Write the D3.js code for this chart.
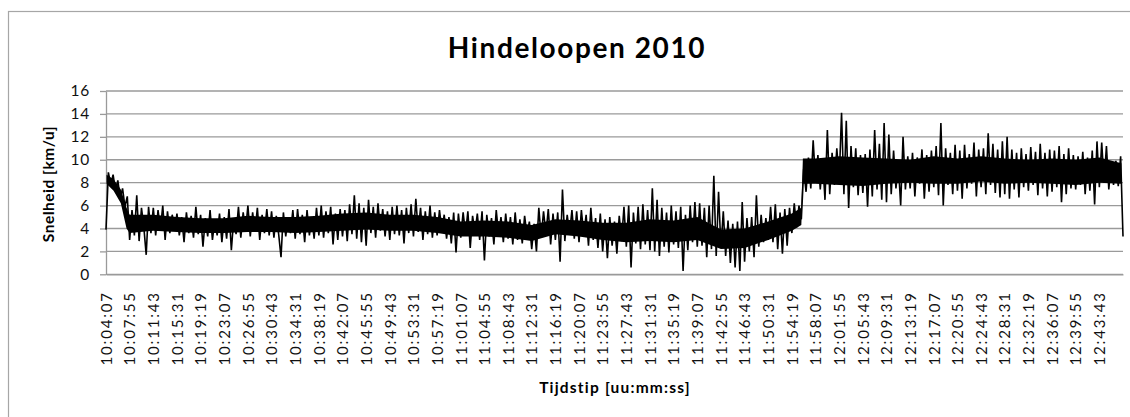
<!DOCTYPE html>
<html>
<head>
<meta charset="utf-8">
<script src="https://cdn.jsdelivr.net/npm/d3@7"></script>
<style>
body { margin: 0; background: #fff; }
svg { display: block; font-family: Lato, "Open Sans", sans-serif; }
</style>
</head>
<body>
<div id="chart"></div>
<script>
// gegevens
var titel = "Hindeloopen 2010";
var yTitel = "Snelheid [km/u]";
var xTitel = "Tijdstip [uu:mm:ss]";
var startTijd = "10:04:07";
var stapSec = 22.8; // tijd tussen twee meetpunten

var yTicks = [0, 2, 4, 6, 8, 10, 12, 14, 16];

var tijdLabels = ["10:04:07","10:07:55","10:11:43","10:15:31","10:19:19","10:23:07","10:26:55","10:30:43",
  "10:34:31","10:38:19","10:42:07","10:45:55","10:49:43","10:53:31","10:57:19","11:01:07","11:04:55",
  "11:08:43","11:12:31","11:16:19","11:20:07","11:23:55","11:27:43","11:31:31","11:35:19","11:39:07",
  "11:42:55","11:46:43","11:50:31","11:54:19","11:58:07","12:01:55","12:05:43","12:09:31","12:13:19",
  "12:17:07","12:20:55","12:24:43","12:28:31","12:32:19","12:36:07","12:39:55","12:43:43"];

// uitschieters van de meetreeks (afwisselend hoog en laag)
var snelheid = [
  3.9, 8.9, 7.8, 8.7, 7.3, 8.2, 6.6, 7.5, 5.9, 6.8,
  3.0, 5.6, 3.4, 6.9, 2.9, 5.8, 4.1, 1.7, 5.9, 3.6,
  5.8, 3.4, 5.6, 3.9, 6.0, 3.0, 5.5, 3.6, 5.2, 3.8,
  5.3, 3.4, 5.0, 2.8, 5.4, 3.6, 5.1, 3.2, 5.9, 3.5,
  5.2, 2.4, 4.9, 3.3, 5.6, 3.0, 4.7, 3.4, 5.3, 2.8,
  5.0, 3.1, 5.7, 2.1, 4.8, 3.5, 5.9, 3.2, 5.4, 3.8,
  6.0, 3.3, 5.4, 3.7, 5.8, 3.0, 5.2, 3.6, 5.7, 3.4,
  5.5, 3.2, 5.1, 3.5, 1.5, 5.4, 3.3, 5.0, 3.6, 5.6,
  3.1, 5.7, 3.5, 5.2, 2.8, 5.6, 3.4, 5.0, 3.1, 5.8,
  3.4, 6.0, 3.2, 5.5, 3.6, 5.9, 2.6, 5.3, 3.0, 5.7,
  3.3, 5.6, 2.9, 6.1, 3.5, 6.9, 3.1, 6.2, 2.8, 5.8,
  2.5, 6.5, 3.6, 5.9, 3.2, 6.2, 3.8, 5.7, 3.3, 5.5,
  3.0, 5.9, 3.5, 6.0, 3.4, 5.6, 2.7, 5.8, 3.6, 6.1,
  3.3, 6.6, 3.7, 5.8, 3.0, 5.5, 3.5, 6.0, 3.2, 5.4,
  3.4, 5.6, 3.8, 5.2, 3.1, 5.0, 2.7, 5.4, 1.9, 5.3,
  3.2, 5.4, 3.5, 5.5, 2.3, 5.1, 3.6, 5.3, 3.0, 5.5,
  1.2, 5.2, 3.3, 4.9, 2.6, 5.6, 3.4, 5.0, 2.8, 5.3,
  3.1, 5.0, 2.6, 5.4, 3.0, 4.8, 2.7, 5.1, 3.4, 4.6,
  2.2, 4.4, 2.0, 5.8, 3.2, 5.5, 3.5, 5.7, 2.6, 5.3,
  3.0, 5.4, 1.1, 7.4, 2.9, 5.2, 3.5, 5.6, 3.1, 5.5,
  2.8, 5.6, 3.4, 5.2, 2.5, 5.8, 3.0, 4.9, 2.3, 5.3,
  2.0, 4.8, 1.4, 5.0, 2.5, 4.6, 1.8, 5.1, 2.9, 5.9,
  2.4, 6.0, 0.6, 5.4, 2.7, 5.9, 2.2, 6.1, 2.6, 5.6,
  2.1, 7.5, 2.0, 6.5, 1.6, 5.8, 2.4, 5.4, 1.9, 6.0,
  2.6, 5.5, 2.3, 5.9, 0.3, 5.2, 2.1, 6.0, 2.8, 6.3,
  2.4, 6.2, 2.5, 5.8, 1.5, 6.0, 2.2, 8.6, 1.6, 7.2,
  2.3, 5.5, 1.6, 4.7, 1.0, 4.4, 0.6, 4.6, 0.3, 6.3,
  1.1, 4.9, 2.0, 5.0, 1.5, 6.9, 2.4, 5.2, 2.8, 4.9,
  3.0, 5.9, 2.8, 6.1, 2.2, 5.4, 1.8, 5.7, 2.5, 5.8,
  3.6, 6.2, 4.1, 6.0, 4.8, 9.2, 7.2, 10.2, 7.5, 11.7,
  8.0, 10.4, 7.4, 10.0, 6.5, 12.6, 7.0, 10.6, 7.8, 11.0,
  8.2, 14.1, 7.0, 13.4, 5.8, 11.2, 7.6, 11.0, 6.9, 10.4,
  7.1, 10.5, 5.9, 10.9, 6.8, 12.6, 7.4, 11.4, 6.5, 13.2,
  6.3, 12.2, 7.0, 10.8, 7.5, 9.6, 6.0, 12.0, 7.4, 10.3,
  7.5, 10.6, 6.8, 10.2, 7.9, 10.9, 6.6, 10.4, 7.2, 10.8,
  7.6, 11.2, 6.9, 13.2, 6.0, 11.0, 7.8, 10.6, 7.0, 11.3,
  7.3, 10.8, 6.6, 11.3, 7.5, 10.5, 7.9, 11.5, 6.8, 10.9,
  7.6, 11.0, 7.0, 12.3, 7.8, 11.4, 7.1, 10.9, 6.7, 11.6,
  7.0, 12.0, 6.6, 10.9, 7.4, 10.6, 6.7, 11.0, 7.6, 10.5,
  7.3, 11.1, 7.8, 10.7, 6.9, 11.4, 7.5, 10.6, 6.8, 10.9,
  7.2, 10.8, 7.6, 11.2, 6.3, 10.5, 7.0, 11.0, 7.5, 10.4,
  7.4, 10.3, 7.8, 10.7, 7.0, 10.2, 7.3, 10.8, 6.1, 11.6,
  7.6, 11.5, 8.0, 11.2, 7.4, 9.8, 7.8, 9.9, 7.7, 10.3, 3.3
];

// dichte kern van de band, waar de lijn de grafiek zwart kleurt
var kernTijd = ["10:04:12","10:05:20","10:06:30","10:07:25","10:07:55","10:11:43","10:15:31","10:19:19",
  "10:23:07","10:26:55","10:30:43","10:34:31","10:38:19","10:42:07","10:45:55","10:49:43","10:53:31",
  "10:57:19","11:01:07","11:04:55","11:08:43","11:12:31","11:16:19","11:20:07","11:23:55","11:27:43",
  "11:31:31","11:35:19","11:39:07","11:42:55","11:46:43","11:50:31","11:54:19","11:55:50","11:56:05",
  "11:58:07","12:01:55","12:05:43","12:09:31","12:13:19","12:17:07","12:20:55","12:24:43","12:28:31",
  "12:32:19","12:36:07","12:39:55","12:43:43","12:47:15"];
var kernLaag = [7.9, 7.3, 6.2, 4.0, 3.6, 3.8, 3.7, 3.6, 3.6, 3.7, 3.7, 3.6, 3.7, 3.8, 3.9, 3.8, 3.8,
  3.6, 3.3, 3.3, 3.2, 2.9, 3.5, 3.3, 3.0, 2.8, 2.9, 2.8, 3.0, 2.2, 2.3, 3.0, 3.8, 4.3, 7.9,
  7.9, 7.8, 7.7, 7.9, 8.0, 7.9, 7.9, 8.1, 7.9, 8.0, 7.9, 7.8, 8.0, 7.9];
var kernHoog = [8.7, 8.3, 7.4, 5.8, 5.2, 5.2, 5.0, 4.9, 4.9, 5.1, 5.0, 5.0, 5.1, 5.3, 5.4, 5.2, 5.2,
  5.0, 4.6, 4.7, 4.6, 4.3, 4.8, 4.7, 4.5, 4.5, 4.8, 4.7, 5.0, 3.9, 4.0, 4.6, 5.3, 5.8, 10.1,
  10.1, 10.3, 10.2, 10.1, 10.0, 10.3, 10.1, 10.3, 10.1, 10.0, 10.1, 10.0, 10.2, 9.7];

function naarSec(s) {
    var p = s.split(":").map(Number);
    return p[0] * 3600 + p[1] * 60 + p[2];
}

var breedte = 1130, hoogte = 417;
var t0 = naarSec(startTijd);
var tEind = t0 + (snelheid.length - 1) * stapSec;

var x = d3.scaleLinear().domain([t0, tEind]).range([106, 1123]);
var y = d3.scaleLinear().domain([0, 16]).range([274.3, 91]);

var svg = d3.select("#chart")
    .append("svg")
    .attr("width", breedte)
    .attr("height", hoogte);

// kader van de grafiek
svg.append("rect")
    .attr("x", 8.5)
    .attr("y", 11.5)
    .attr("width", 1140)
    .attr("height", 420)
    .attr("fill", "#fff")
    .attr("stroke", "#a6a6a6")
    .attr("stroke-width", 1.2);

// rasterlijnen
svg.append("g")
    .selectAll("line")
    .data(yTicks)
    .enter()
    .append("line")
    .attr("x1", 106)
    .attr("x2", 1123)
    .attr("y1", d => y(d))
    .attr("y2", d => y(d))
    .attr("stroke", "#9a9a9a")
    .attr("stroke-width", 1.3);

// y-as
var yAs = svg.append("g")
    .attr("transform", "translate(106,0)")
    .call(d3.axisLeft(y).tickValues(yTicks).tickSize(6).tickPadding(10).tickSizeOuter(0));
yAs.select(".domain").attr("stroke", "#9a9a9a").attr("stroke-width", 1.3);
yAs.selectAll(".tick line").attr("stroke", "#9a9a9a").attr("stroke-width", 1.3);
yAs.selectAll("text")
    .attr("font-size", "15.5px")
    .attr("font-family", "Lato, sans-serif")
    .attr("letter-spacing", "0.8px")
    .attr("fill", "#111");

// x-as
var xAs = svg.append("g")
    .attr("transform", "translate(0," + y(0) + ")")
    .call(d3.axisBottom(x).tickValues(tijdLabels.map(naarSec)).tickFormat((d, i) => tijdLabels[i]).tickSize(0).tickSizeOuter(0));
xAs.select(".domain").attr("stroke", "#9a9a9a").attr("stroke-width", 1.3);
xAs.selectAll("text")
    .attr("transform", "rotate(-90)")
    .attr("x", -17)
    .attr("y", 0)
    .attr("dy", "0.35em")
    .attr("text-anchor", "end")
    .attr("font-size", "15px")
    .attr("font-family", "Lato, sans-serif")
    .attr("letter-spacing", "1.8px")
    .attr("fill", "#111");

// kern van de band
var kern = d3.area()
    .x((d, i) => x(naarSec(d)))
    .y0((d, i) => y(kernLaag[i]))
    .y1((d, i) => y(kernHoog[i]));

svg.append("path")
    .datum(kernTijd)
    .attr("d", kern)
    .attr("fill", "#000");

// meetreeks
var lijn = d3.line()
    .x((d, i) => x(t0 + i * stapSec))
    .y(d => y(d));

svg.append("path")
    .datum(snelheid)
    .attr("d", lijn)
    .attr("fill", "none")
    .attr("stroke", "#000")
    .attr("stroke-width", 1.6);

// titels
svg.append("text")
    .attr("x", 577)
    .attr("y", 58)
    .attr("text-anchor", "middle")
    .attr("font-size", "28px")
    .attr("font-weight", "bold")
    .attr("letter-spacing", "1.6px")
    .text(titel);

svg.append("text")
    .attr("transform", "translate(49,184) rotate(-90)")
    .attr("dy", "0.35em")
    .attr("text-anchor", "middle")
    .attr("font-size", "15.5px")
    .attr("font-weight", "bold")
    .attr("letter-spacing", "0.5px")
    .text(yTitel);

svg.append("text")
    .attr("x", 615)
    .attr("y", 393)
    .attr("text-anchor", "middle")
    .attr("font-size", "15.5px")
    .attr("font-weight", "bold")
    .attr("letter-spacing", "1.2px")
    .text(xTitel);
</script>
</body>
</html>
